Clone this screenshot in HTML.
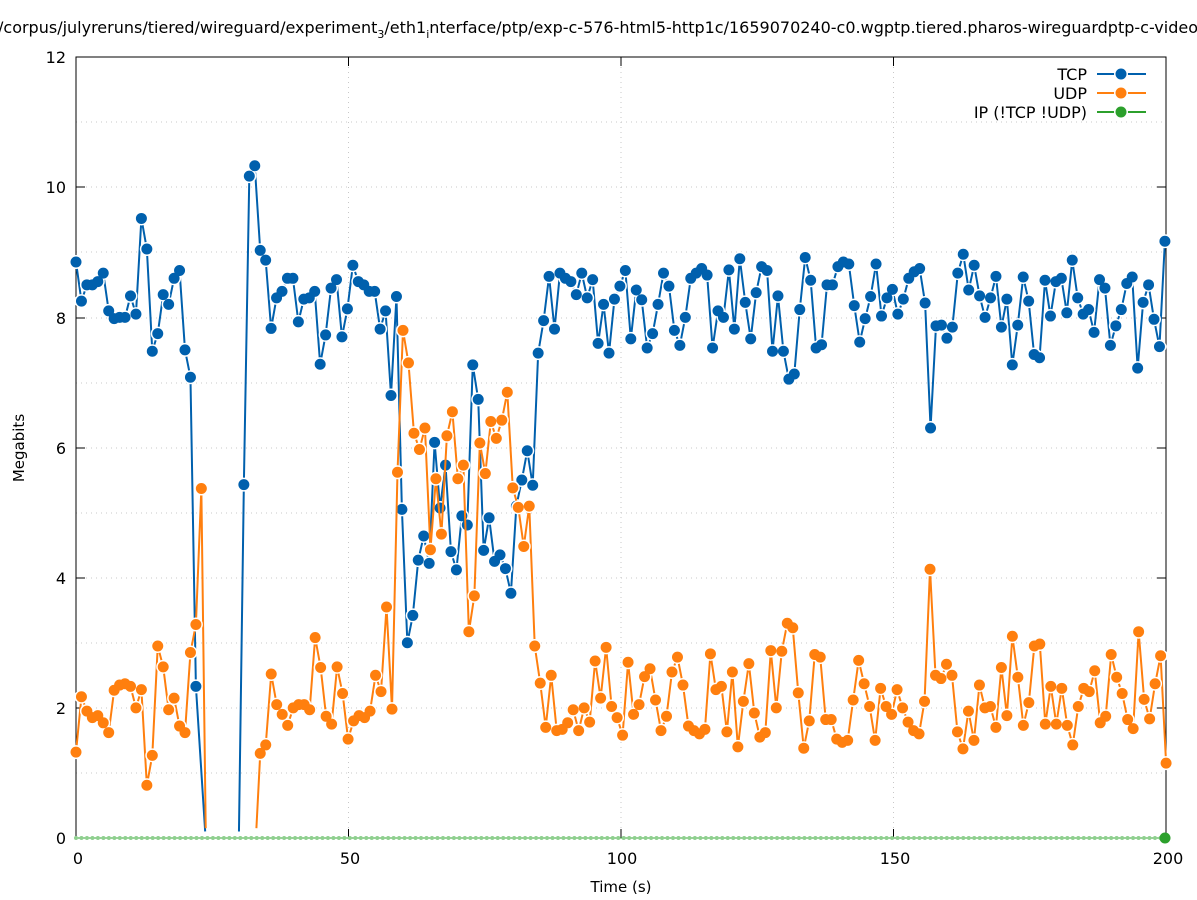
<!DOCTYPE html>
<html><head><meta charset="utf-8"><style>
html,body{margin:0;padding:0;background:#fff}
svg{display:block;font-family:"DejaVu Sans","Liberation Sans",sans-serif}
</style></head><body>
<svg width="1197" height="900" viewBox="0 0 1197 900" xmlns="http://www.w3.org/2000/svg">
<defs>
<path id="ta" vector-effect="non-scaling-stroke" stroke-linecap="round" fill="none" d="M0 8.85h0M1 8.25h0M2 8.5h0M3 8.5h0M4 8.55h0M5 8.68h0M6 8.1h0M7 7.98h0M8 8h0M9 8h0M10 8.33h0M11 8.05h0M12 9.52h0M13 9.05h0M14 7.48h0M15 7.75h0M16 8.35h0M17 8.2h0M18 8.6h0M19 8.72h0M20 7.5h0M21 7.08h0M22 2.33h0"/>
<path id="tb" vector-effect="non-scaling-stroke" stroke-linecap="round" fill="none" d="M30 5.43h0M31 10.17h0M32 10.33h0M33 9.03h0M34 8.88h0M35 7.83h0M36 8.3h0M37 8.4h0M38 8.6h0M39 8.6h0M40 7.93h0M41 8.28h0M42 8.3h0M43 8.4h0M44 7.28h0M45 7.73h0M46 8.45h0M47 8.58h0M48 7.7h0M49 8.13h0M50 8.8h0M51 8.55h0M52 8.5h0M53 8.4h0M54 8.4h0M55 7.82h0M56 8.1h0M57 6.8h0M58 8.32h0M59 5.05h0M60 3h0M61 3.42h0M62 4.27h0M63 4.64h0M64 4.22h0M65 6.08h0M66 5.07h0M67 5.73h0M68 4.4h0M69 4.12h0M70 4.95h0M71 4.81h0M72 7.27h0M73 6.74h0M74 4.42h0M75 4.92h0M76 4.25h0M77 4.35h0M78 4.14h0M79 3.76h0M80 5.1h0M81 5.5h0M82 5.95h0M83 5.42h0M84 7.45h0M85 7.95h0M86 8.63h0M87 7.82h0M88 8.68h0M89 8.6h0M90 8.55h0M91 8.35h0M92 8.68h0M93 8.3h0M94 8.58h0M95 7.6h0M96 8.2h0M97 7.45h0M98 8.28h0M99 8.48h0M100 8.72h0M101 7.67h0M102 8.42h0M103 8.27h0M104 7.53h0M105 7.75h0M106 8.2h0M107 8.68h0M108 8.48h0M109 7.8h0M110 7.57h0M111 8h0M112 8.6h0M113 8.68h0M114 8.75h0M115 8.65h0M116 7.53h0M117 8.1h0M118 8h0M119 8.73h0M120 7.82h0M121 8.9h0M122 8.23h0M123 7.67h0M124 8.38h0M125 8.78h0M126 8.72h0M127 7.48h0M128 8.33h0M129 7.48h0M130 7.05h0M131 7.13h0M132 8.12h0M133 8.92h0M134 8.57h0M135 7.53h0M136 7.58h0M137 8.5h0M138 8.5h0M139 8.78h0M140 8.85h0M141 8.82h0M142 8.18h0M143 7.62h0M144 7.98h0M145 8.32h0M146 8.82h0M147 8.02h0M148 8.3h0M149 8.43h0M150 8.05h0M151 8.28h0M152 8.6h0M153 8.7h0M154 8.75h0M155 8.22h0M156 6.3h0M157 7.87h0M158 7.88h0M159 7.68h0M160 7.85h0M161 8.68h0M162 8.97h0M163 8.42h0M164 8.8h0M165 8.33h0M166 8h0M167 8.3h0M168 8.63h0M169 7.85h0M170 8.28h0M171 7.27h0M172 7.88h0M173 8.62h0M174 8.25h0M175 7.43h0M176 7.38h0M177 8.57h0M178 8.02h0M179 8.55h0M180 8.6h0M181 8.07h0M182 8.88h0M183 8.3h0M184 8.05h0M185 8.12h0M186 7.77h0M187 8.58h0M188 8.45h0M189 7.57h0M190 7.87h0M191 8.12h0M192 8.52h0M193 8.62h0M194 7.22h0M195 8.23h0M196 8.5h0M197 7.97h0M198 7.55h0M199 9.17h0"/>
<path id="ua" vector-effect="non-scaling-stroke" stroke-linecap="round" fill="none" d="M0 1.32h0M1 2.17h0M2 1.95h0M3 1.85h0M4 1.88h0M5 1.77h0M6 1.62h0M7 2.27h0M8 2.35h0M9 2.37h0M10 2.33h0M11 2h0M12 2.28h0M13 0.81h0M14 1.27h0M15 2.95h0M16 2.63h0M17 1.97h0M18 2.15h0M19 1.72h0M20 1.62h0M21 2.85h0M22 3.28h0M23 5.37h0"/>
<path id="ub" vector-effect="non-scaling-stroke" stroke-linecap="round" fill="none" d="M33 1.3h0M34 1.43h0M35 2.52h0M36 2.05h0M37 1.9h0M38 1.73h0M39 2h0M40 2.05h0M41 2.05h0M42 1.97h0M43 3.08h0M44 2.62h0M45 1.87h0M46 1.75h0M47 2.63h0M48 2.22h0M49 1.52h0M50 1.8h0M51 1.88h0M52 1.85h0M53 1.95h0M54 2.5h0M55 2.25h0M56 3.55h0M57 1.98h0M58 5.62h0M59 7.8h0M60 7.3h0M61 6.22h0M62 5.97h0M63 6.3h0M64 4.43h0M65 5.52h0M66 4.67h0M67 6.18h0M68 6.55h0M69 5.52h0M70 5.73h0M71 3.17h0M72 3.72h0M73 6.07h0M74 5.6h0M75 6.4h0M76 6.14h0M77 6.42h0M78 6.85h0M79 5.38h0M80 5.08h0M81 4.48h0M82 5.1h0M83 2.95h0M84 2.38h0M85 1.7h0M86 2.5h0M87 1.65h0M88 1.67h0M89 1.77h0M90 1.97h0M91 1.65h0M92 2h0M93 1.78h0M94 2.72h0M95 2.15h0M96 2.93h0M97 2.02h0M98 1.85h0M99 1.58h0M100 2.7h0M101 1.9h0M102 2.05h0M103 2.48h0M104 2.6h0M105 2.12h0M106 1.65h0M107 1.87h0M108 2.55h0M109 2.78h0M110 2.35h0M111 1.72h0M112 1.65h0M113 1.6h0M114 1.67h0M115 2.83h0M116 2.28h0M117 2.33h0M118 1.63h0M119 2.55h0M120 1.4h0M121 2.1h0M122 2.68h0M123 1.92h0M124 1.55h0M125 1.62h0M126 2.88h0M127 2h0M128 2.87h0M129 3.3h0M130 3.23h0M131 2.23h0M132 1.38h0M133 1.8h0M134 2.82h0M135 2.78h0M136 1.82h0M137 1.82h0M138 1.52h0M139 1.47h0M140 1.5h0M141 2.12h0M142 2.73h0M143 2.37h0M144 2.02h0M145 1.5h0M146 2.3h0M147 2.02h0M148 1.9h0M149 2.28h0M150 2h0M151 1.78h0M152 1.65h0M153 1.6h0M154 2.1h0M155 4.13h0M156 2.5h0M157 2.45h0M158 2.67h0M159 2.5h0M160 1.63h0M161 1.37h0M162 1.95h0M163 1.5h0M164 2.35h0M165 2h0M166 2.02h0M167 1.7h0M168 2.62h0M169 1.88h0M170 3.1h0M171 2.47h0M172 1.73h0M173 2.08h0M174 2.95h0M175 2.98h0M176 1.75h0M177 2.33h0M178 1.75h0M179 2.3h0M180 1.73h0M181 1.43h0M182 2.02h0M183 2.3h0M184 2.25h0M185 2.57h0M186 1.77h0M187 1.87h0M188 2.82h0M189 2.47h0M190 2.22h0M191 1.82h0M192 1.68h0M193 3.17h0M194 2.13h0M195 1.83h0M196 2.37h0M197 2.8h0M198 1.15h0"/>
</defs>
<rect width="1197" height="900" fill="#fff"/>
<text x="598" y="33" font-size="16" text-anchor="middle" fill="#000">/corpus/julyreruns/tiered/wireguard/experiment<tspan font-size="11" dy="5">3</tspan><tspan dy="-5">/eth1</tspan><tspan font-size="11" dy="5">i</tspan><tspan dy="-5">nterface/ptp/exp-c-576-html5-http1c/1659070240-c0.wgptp.tiered.pharos-wireguardptp-c-video</tspan></text>
<g stroke="#c8c8c8" stroke-width="1" stroke-dasharray="1,4">
<line x1="76" x2="1166" y1="773" y2="773"/><line x1="76" x2="1166" y1="708" y2="708"/><line x1="76" x2="1166" y1="643" y2="643"/><line x1="76" x2="1166" y1="578" y2="578"/><line x1="76" x2="1166" y1="513" y2="513"/><line x1="76" x2="1166" y1="448" y2="448"/><line x1="76" x2="1166" y1="383" y2="383"/><line x1="76" x2="1166" y1="318" y2="318"/><line x1="76" x2="1166" y1="252" y2="252"/><line x1="76" x2="1166" y1="187" y2="187"/><line x1="76" x2="1166" y1="122" y2="122"/>
<line x1="348.5" x2="348.5" y1="57" y2="838"/><line x1="621" x2="621" y1="57" y2="838"/><line x1="893.5" x2="893.5" y1="57" y2="838"/>
</g>
<rect x="76" y="57" width="1090" height="781" fill="none" stroke="#000" stroke-width="1"/>
<g stroke="#000" stroke-width="1">
<line x1="76" x2="85" y1="708" y2="708"/><line x1="76" x2="85" y1="578" y2="578"/><line x1="76" x2="85" y1="448" y2="448"/><line x1="76" x2="85" y1="318" y2="318"/><line x1="76" x2="85" y1="187" y2="187"/>
<line x1="1157" x2="1166" y1="708" y2="708"/><line x1="1157" x2="1166" y1="578" y2="578"/><line x1="1157" x2="1166" y1="448" y2="448"/><line x1="1157" x2="1166" y1="318" y2="318"/><line x1="1157" x2="1166" y1="187" y2="187"/>
<line x1="348.5" x2="348.5" y1="838" y2="829"/><line x1="621" x2="621" y1="838" y2="829"/><line x1="893.5" x2="893.5" y1="838" y2="829"/>
<line x1="348.5" x2="348.5" y1="57" y2="66"/><line x1="621" x2="621" y1="57" y2="66"/><line x1="893.5" x2="893.5" y1="57" y2="66"/>
</g>
<g font-size="16" fill="#000" text-anchor="end">
<text x="66" y="844">0</text><text x="66" y="714">2</text><text x="66" y="584">4</text><text x="66" y="454">6</text><text x="66" y="324">8</text><text x="66" y="193">10</text><text x="66" y="63">12</text>
</g>
<g font-size="16" fill="#000" text-anchor="middle">
<text x="78" y="864">0</text><text x="350" y="864">50</text><text x="622" y="864">100</text><text x="1168" y="864">200</text><text x="895" y="864">150</text>
<text x="621" y="892" font-size="15">Time (s)</text>
<text transform="translate(24,448) rotate(-90)" font-size="15">Megabits</text>
</g>

<line x1="76" x2="1166" y1="838" y2="838" stroke="#2ca02c" stroke-width="1"/>
<path d="M0 0h0M1 0h0M2 0h0M3 0h0M4 0h0M5 0h0M6 0h0M7 0h0M8 0h0M9 0h0M10 0h0M11 0h0M12 0h0M13 0h0M14 0h0M15 0h0M16 0h0M17 0h0M18 0h0M19 0h0M20 0h0M21 0h0M22 0h0M23 0h0M24 0h0M25 0h0M26 0h0M27 0h0M28 0h0M29 0h0M30 0h0M31 0h0M32 0h0M33 0h0M34 0h0M35 0h0M36 0h0M37 0h0M38 0h0M39 0h0M40 0h0M41 0h0M42 0h0M43 0h0M44 0h0M45 0h0M46 0h0M47 0h0M48 0h0M49 0h0M50 0h0M51 0h0M52 0h0M53 0h0M54 0h0M55 0h0M56 0h0M57 0h0M58 0h0M59 0h0M60 0h0M61 0h0M62 0h0M63 0h0M64 0h0M65 0h0M66 0h0M67 0h0M68 0h0M69 0h0M70 0h0M71 0h0M72 0h0M73 0h0M74 0h0M75 0h0M76 0h0M77 0h0M78 0h0M79 0h0M80 0h0M81 0h0M82 0h0M83 0h0M84 0h0M85 0h0M86 0h0M87 0h0M88 0h0M89 0h0M90 0h0M91 0h0M92 0h0M93 0h0M94 0h0M95 0h0M96 0h0M97 0h0M98 0h0M99 0h0M100 0h0M101 0h0M102 0h0M103 0h0M104 0h0M105 0h0M106 0h0M107 0h0M108 0h0M109 0h0M110 0h0M111 0h0M112 0h0M113 0h0M114 0h0M115 0h0M116 0h0M117 0h0M118 0h0M119 0h0M120 0h0M121 0h0M122 0h0M123 0h0M124 0h0M125 0h0M126 0h0M127 0h0M128 0h0M129 0h0M130 0h0M131 0h0M132 0h0M133 0h0M134 0h0M135 0h0M136 0h0M137 0h0M138 0h0M139 0h0M140 0h0M141 0h0M142 0h0M143 0h0M144 0h0M145 0h0M146 0h0M147 0h0M148 0h0M149 0h0M150 0h0M151 0h0M152 0h0M153 0h0M154 0h0M155 0h0M156 0h0M157 0h0M158 0h0M159 0h0M160 0h0M161 0h0M162 0h0M163 0h0M164 0h0M165 0h0M166 0h0M167 0h0M168 0h0M169 0h0M170 0h0M171 0h0M172 0h0M173 0h0M174 0h0M175 0h0M176 0h0M177 0h0M178 0h0M179 0h0M180 0h0M181 0h0M182 0h0M183 0h0M184 0h0M185 0h0M186 0h0M187 0h0M188 0h0M189 0h0M190 0h0M191 0h0M192 0h0M193 0h0M194 0h0M195 0h0M196 0h0M197 0h0M198 0h0M199 0h0" transform="translate(76,838) scale(5.477,1)" stroke="#8fd08f" stroke-width="4" stroke-linecap="round" fill="none" vector-effect="non-scaling-stroke"/>
<circle cx="1165" cy="838" r="5.5" fill="#2ca02c"/>

<g transform="translate(76,838) scale(5.45,-65.08)" fill="none" stroke-linejoin="round">
<polyline vector-effect="non-scaling-stroke" stroke="#0060ad" stroke-width="2" points="0,8.85 1,8.25 2,8.5 3,8.5 4,8.55 5,8.68 6,8.1 7,7.98 8,8.0 9,8.0 10,8.33 11,8.05 12,9.52 13,9.05 14,7.48 15,7.75 16,8.35 17,8.2 18,8.6 19,8.72 20,7.5 21,7.08 22,2.33 23.7,0.1"/>
<use href="#ta" stroke="#fff" stroke-width="14"/>
<use href="#ta" stroke="#0060ad" stroke-width="11"/>
</g>
<g transform="translate(76,838) scale(5.45,-65.08) translate(0.8,0)" fill="none" stroke-linejoin="round">
<polyline vector-effect="non-scaling-stroke" stroke="#0060ad" stroke-width="2" points="29.1,0.1 30,5.43 31,10.17 32,10.33 33,9.03 34,8.88 35,7.83 36,8.3 37,8.4 38,8.6 39,8.6 40,7.93 41,8.28 42,8.3 43,8.4 44,7.28 45,7.73 46,8.45 47,8.58 48,7.7 49,8.13 50,8.8 51,8.55 52,8.5 53,8.4 54,8.4 55,7.82 56,8.1 57,6.8 58,8.32 59,5.05 60,3.0 61,3.42 62,4.27 63,4.64 64,4.22 65,6.08 66,5.07 67,5.73 68,4.4 69,4.12 70,4.95 71,4.81 72,7.27 73,6.74 74,4.42 75,4.92 76,4.25 77,4.35 78,4.14 79,3.76 80,5.1 81,5.5 82,5.95 83,5.42 84,7.45 85,7.95 86,8.63 87,7.82 88,8.68 89,8.6 90,8.55 91,8.35 92,8.68 93,8.3 94,8.58 95,7.6 96,8.2 97,7.45 98,8.28 99,8.48 100,8.72 101,7.67 102,8.42 103,8.27 104,7.53 105,7.75 106,8.2 107,8.68 108,8.48 109,7.8 110,7.57 111,8.0 112,8.6 113,8.68 114,8.75 115,8.65 116,7.53 117,8.1 118,8.0 119,8.73 120,7.82 121,8.9 122,8.23 123,7.67 124,8.38 125,8.78 126,8.72 127,7.48 128,8.33 129,7.48 130,7.05 131,7.13 132,8.12 133,8.92 134,8.57 135,7.53 136,7.58 137,8.5 138,8.5 139,8.78 140,8.85 141,8.82 142,8.18 143,7.62 144,7.98 145,8.32 146,8.82 147,8.02 148,8.3 149,8.43 150,8.05 151,8.28 152,8.6 153,8.7 154,8.75 155,8.22 156,6.3 157,7.87 158,7.88 159,7.68 160,7.85 161,8.68 162,8.97 163,8.42 164,8.8 165,8.33 166,8.0 167,8.3 168,8.63 169,7.85 170,8.28 171,7.27 172,7.88 173,8.62 174,8.25 175,7.43 176,7.38 177,8.57 178,8.02 179,8.55 180,8.6 181,8.07 182,8.88 183,8.3 184,8.05 185,8.12 186,7.77 187,8.58 188,8.45 189,7.57 190,7.87 191,8.12 192,8.52 193,8.62 194,7.22 195,8.23 196,8.5 197,7.97 198,7.55 199,9.17"/>
<use href="#tb" stroke="#fff" stroke-width="14"/>
<use href="#tb" stroke="#0060ad" stroke-width="11"/>
</g>

<g transform="translate(76,838) scale(5.45,-65.08)" fill="none" stroke-linejoin="round">
<polyline vector-effect="non-scaling-stroke" stroke="#ff7f0e" stroke-width="2" points="0,1.32 1,2.17 2,1.95 3,1.85 4,1.88 5,1.77 6,1.62 7,2.27 8,2.35 9,2.37 10,2.33 11,2.0 12,2.28 13,0.81 14,1.27 15,2.95 16,2.63 17,1.97 18,2.15 19,1.72 20,1.62 21,2.85 22,3.28 23,5.37 23.8,0.15"/>
<use href="#ua" stroke="#fff" stroke-width="14"/>
<use href="#ua" stroke="#ff7f0e" stroke-width="11"/>
</g>
<g transform="translate(76,838) scale(5.49,-65.08) translate(0.56,0)" fill="none" stroke-linejoin="round">
<polyline vector-effect="non-scaling-stroke" stroke="#ff7f0e" stroke-width="2" points="32.3,0.15 33,1.3 34,1.43 35,2.52 36,2.05 37,1.9 38,1.73 39,2.0 40,2.05 41,2.05 42,1.97 43,3.08 44,2.62 45,1.87 46,1.75 47,2.63 48,2.22 49,1.52 50,1.8 51,1.88 52,1.85 53,1.95 54,2.5 55,2.25 56,3.55 57,1.98 58,5.62 59,7.8 60,7.3 61,6.22 62,5.97 63,6.3 64,4.43 65,5.52 66,4.67 67,6.18 68,6.55 69,5.52 70,5.73 71,3.17 72,3.72 73,6.07 74,5.6 75,6.4 76,6.14 77,6.42 78,6.85 79,5.38 80,5.08 81,4.48 82,5.1 83,2.95 84,2.38 85,1.7 86,2.5 87,1.65 88,1.67 89,1.77 90,1.97 91,1.65 92,2.0 93,1.78 94,2.72 95,2.15 96,2.93 97,2.02 98,1.85 99,1.58 100,2.7 101,1.9 102,2.05 103,2.48 104,2.6 105,2.12 106,1.65 107,1.87 108,2.55 109,2.78 110,2.35 111,1.72 112,1.65 113,1.6 114,1.67 115,2.83 116,2.28 117,2.33 118,1.63 119,2.55 120,1.4 121,2.1 122,2.68 123,1.92 124,1.55 125,1.62 126,2.88 127,2.0 128,2.87 129,3.3 130,3.23 131,2.23 132,1.38 133,1.8 134,2.82 135,2.78 136,1.82 137,1.82 138,1.52 139,1.47 140,1.5 141,2.12 142,2.73 143,2.37 144,2.02 145,1.5 146,2.3 147,2.02 148,1.9 149,2.28 150,2.0 151,1.78 152,1.65 153,1.6 154,2.1 155,4.13 156,2.5 157,2.45 158,2.67 159,2.5 160,1.63 161,1.37 162,1.95 163,1.5 164,2.35 165,2.0 166,2.02 167,1.7 168,2.62 169,1.88 170,3.1 171,2.47 172,1.73 173,2.08 174,2.95 175,2.98 176,1.75 177,2.33 178,1.75 179,2.3 180,1.73 181,1.43 182,2.02 183,2.3 184,2.25 185,2.57 186,1.77 187,1.87 188,2.82 189,2.47 190,2.22 191,1.82 192,1.68 193,3.17 194,2.13 195,1.83 196,2.37 197,2.8 198,1.15"/>
<use href="#ub" stroke="#fff" stroke-width="14"/>
<use href="#ub" stroke="#ff7f0e" stroke-width="11"/>
</g>

<g font-size="16" fill="#000" text-anchor="end">
<text x="1087" y="80">TCP</text><text x="1087" y="99">UDP</text><text x="1087" y="118">IP (!TCP  !UDP)</text>
</g>
<g stroke-width="2">
<line x1="1097" x2="1146" y1="74" y2="74" stroke="#0060ad"/>
<line x1="1097" x2="1146" y1="93" y2="93" stroke="#ff7f0e"/>
<line x1="1097" x2="1146" y1="112" y2="112" stroke="#2ca02c"/>
</g>
<circle cx="1121" cy="74" r="7" fill="#fff"/><circle cx="1121" cy="74" r="5.5" fill="#0060ad"/>
<circle cx="1121" cy="93" r="7" fill="#fff"/><circle cx="1121" cy="93" r="5.5" fill="#ff7f0e"/>
<circle cx="1121" cy="112" r="7" fill="#fff"/><circle cx="1121" cy="112" r="5.5" fill="#2ca02c"/>
</svg>
</body></html>
